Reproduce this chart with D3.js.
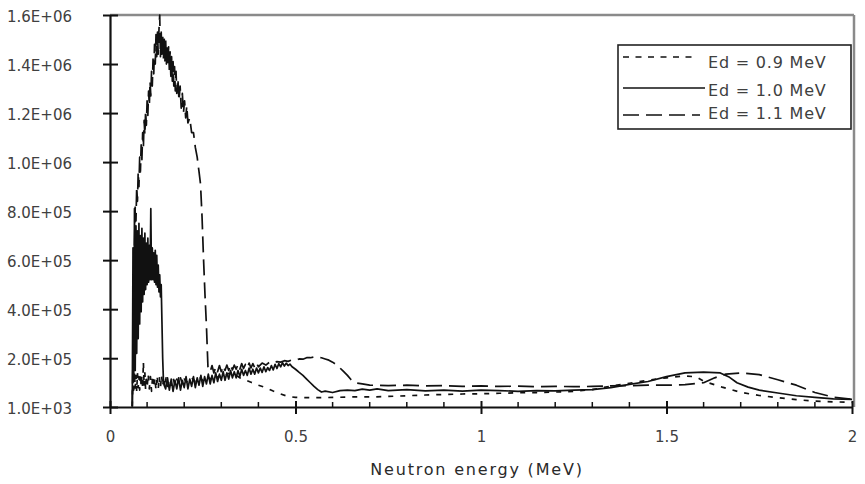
<!DOCTYPE html>
<html>
<head>
<meta charset="utf-8">
<script src="https://cdn.jsdelivr.net/npm/d3@7"></script>
<style>
  body { margin: 0; background: #fff; }
  text { font-family: "DejaVu Sans", sans-serif; }
</style>
</head>
<body>
<svg id="chart" width="865" height="484"></svg>
<script>
// Axis ticks
const yTickValues = [1e3, 2e5, 4e5, 6e5, 8e5, 1e6, 1.2e6, 1.4e6, 1.6e6];
const yTickLabels = ["1.0E+03", "2.0E+05", "4.0E+05", "6.0E+05", "8.0E+05",
                     "1.0E+06", "1.2E+06", "1.4E+06", "1.6E+06"];
const xTickValues = [0, 0.5, 1, 1.5, 2];
const xTickLabels = ["0", "0.5", "1", "1.5", "2"];
const xMinorTicks = [0.1, 0.2, 0.3, 0.4, 0.6, 0.7, 0.8, 0.9, 1.1, 1.2, 1.3, 1.4, 1.6, 1.7, 1.8, 1.9];
const xTitle = "Neutron energy (MeV)";
const seriesNames = ["Ed = 0.9 MeV", "Ed = 1.0 MeV", "Ed = 1.1 MeV"];

// Ed = 0.9 MeV spectrum
const energy09 = [0.060,0.062,0.064,0.066,0.068,0.070,0.072,0.074,0.076,0.078,0.080,0.082,0.084,0.086,0.088,0.090,0.092,0.094,0.096,0.098,
  0.100,0.103,0.106,0.109,0.112,0.115,0.118,0.121,0.124,0.127,0.130,0.133,0.136,0.139,0.142,0.145,0.148,0.151,0.155,0.160,
  0.165,0.170,0.175,0.180,0.185,0.190,0.195,0.200,0.210,0.220,0.230,0.240,0.250,0.260,0.270,0.280,0.290,0.300,0.310,0.320,
  0.330,0.340,0.350,0.360,0.370,0.380,0.390,0.400,0.420,0.440,0.460,0.480,0.500,0.550,0.600,0.650,0.700,0.750,0.800,0.850,
  0.900,0.950,1.000,1.050,1.100,1.150,1.200,1.250,1.300,1.350,1.400,1.450,1.500,1.550,1.580,1.600,1.650,1.700,1.750,1.800,
  1.850,1.900,1.950,2.000];
const counts09 = [3e3,1.35e5,0.7e5,1.45e5,0.75e5,1.3e5,0.65e5,1.4e5,0.8e5,1.25e5,0.7e5,1.35e5,0.85e5,1.3e5,0.75e5,1.85e5,0.85e5,1.4e5,0.7e5,1.3e5,
  0.8e5,1.35e5,0.75e5,1.25e5,0.65e5,1.3e5,0.8e5,1.2e5,0.7e5,1.3e5,0.75e5,1.25e5,0.8e5,1.3e5,0.85e5,1.25e5,0.8e5,1.2e5,0.85e5,1.15e5,
  0.9e5,1.2e5,0.9e5,1.15e5,0.95e5,1.2e5,0.95e5,1.15e5,1.0e5,1.2e5,1.05e5,1.25e5,1.1e5,1.3e5,1.15e5,1.32e5,1.22e5,1.36e5,1.28e5,1.38e5,
  1.28e5,1.3e5,1.2e5,1.15e5,1.08e5,1.02e5,0.96e5,0.9e5,0.8e5,0.66e5,0.54e5,0.44e5,0.4e5,0.39e5,0.4e5,0.42e5,0.42e5,0.44e5,0.47e5,0.5e5,
  0.52e5,0.54e5,0.55e5,0.57e5,0.59e5,0.6e5,0.62e5,0.65e5,0.72e5,0.86e5,0.98e5,1.1e5,1.2e5,1.28e5,1.24e5,1.06e5,0.82e5,0.61e5,0.48e5,0.39e5,
  0.31e5,0.25e5,0.22e5,0.2e5];

// Ed = 1.0 MeV spectrum
const energy10 = [0.060,0.062,0.064,0.066,0.068,0.070,0.072,0.074,0.076,0.078,0.080,0.082,0.084,0.086,0.088,0.090,0.092,0.094,0.096,0.098,
  0.100,0.102,0.104,0.106,0.108,0.110,0.112,0.114,0.116,0.118,0.120,0.122,0.124,0.126,0.128,0.130,0.132,0.134,0.136,0.138,
  0.140,0.142,0.144,0.146,0.150,0.155,0.160,0.165,0.170,0.175,0.180,0.185,0.190,0.195,0.200,0.205,0.210,0.215,0.220,0.225,
  0.230,0.235,0.240,0.245,0.250,0.255,0.260,0.265,0.270,0.275,0.280,0.285,0.290,0.295,0.300,0.305,0.310,0.315,0.320,0.325,
  0.330,0.335,0.340,0.345,0.350,0.355,0.360,0.365,0.370,0.375,0.380,0.385,0.390,0.395,0.400,0.405,0.410,0.415,0.420,0.425,
  0.430,0.435,0.440,0.445,0.450,0.455,0.460,0.465,0.470,0.475,0.480,0.485,0.490,0.500,0.510,0.520,0.530,0.540,0.550,0.560,
  0.570,0.580,0.600,0.620,0.640,0.660,0.680,0.700,0.720,0.750,0.800,0.850,0.900,0.950,1.000,1.050,1.100,1.150,1.200,1.250,
  1.300,1.350,1.400,1.450,1.500,1.550,1.600,1.645,1.670,1.690,1.720,1.750,1.800,1.850,1.900,1.950,2.000];
const counts10 = [3e3,6.5e5,1.2e5,8.1e5,1.5e5,7.4e5,2.2e5,7.2e5,2.8e5,7.5e5,3.4e5,7.0e5,3.9e5,7.3e5,4.3e5,6.9e5,4.6e5,7.1e5,4.8e5,6.7e5,
  5.0e5,6.9e5,5.1e5,6.6e5,5.2e5,8.1e5,5.2e5,6.5e5,5.2e5,6.3e5,5.1e5,6.4e5,5.0e5,6.2e5,4.9e5,5.8e5,4.7e5,5.4e5,4.5e5,5.0e5,
  3.5e5,2.0e5,1.1e5,0.9e5,0.75e5,1.2e5,0.7e5,1.15e5,0.65e5,1.1e5,0.75e5,1.2e5,0.7e5,1.1e5,0.8e5,1.25e5,0.75e5,1.15e5,0.85e5,1.25e5,
  0.8e5,1.2e5,0.9e5,1.3e5,0.85e5,1.25e5,0.95e5,1.35e5,0.95e5,1.3e5,1.0e5,1.4e5,1.05e5,1.35e5,1.1e5,1.45e5,1.1e5,1.4e5,1.15e5,1.5e5,
  1.2e5,1.45e5,1.2e5,1.5e5,1.25e5,1.55e5,1.3e5,1.5e5,1.3e5,1.6e5,1.35e5,1.55e5,1.35e5,1.6e5,1.4e5,1.6e5,1.42e5,1.65e5,1.45e5,1.62e5,
  1.5e5,1.7e5,1.52e5,1.75e5,1.58e5,1.78e5,1.65e5,1.82e5,1.68e5,1.8e5,1.7e5,1.76e5,1.66e5,1.55e5,1.42e5,1.3e5,1.15e5,1.0e5,0.85e5,0.72e5,
  0.62e5,0.66e5,0.6e5,0.68e5,0.7e5,0.68e5,0.74e5,0.7e5,0.75e5,0.68e5,0.72e5,0.67e5,0.7e5,0.66e5,0.7e5,0.68e5,0.65e5,0.68e5,0.67e5,0.7e5,
  0.72e5,0.8e5,0.93e5,1.05e5,1.25e5,1.4e5,1.43e5,1.4e5,1.22e5,1.0e5,0.82e5,0.7e5,0.58e5,0.47e5,0.4e5,0.34e5,0.32e5];

// Ed = 1.1 MeV spectrum
const energy11 = [0.060,0.062,0.064,0.066,0.068,0.070,0.072,0.074,0.076,0.078,0.080,0.082,0.084,0.086,0.088,0.090,0.092,0.094,0.096,0.098,
  0.100,0.102,0.104,0.106,0.108,0.110,0.112,0.114,0.116,0.118,0.120,0.122,0.124,0.126,0.128,0.130,0.132,0.134,0.136,0.138,
  0.140,0.142,0.144,0.146,0.148,0.150,0.152,0.154,0.156,0.158,0.160,0.162,0.164,0.166,0.168,0.170,0.172,0.174,0.176,0.178,
  0.180,0.183,0.186,0.189,0.192,0.195,0.198,0.201,0.204,0.207,0.210,0.215,0.220,0.225,0.230,0.235,0.240,0.244,0.248,0.252,
  0.256,0.260,0.264,0.270,0.275,0.280,0.285,0.290,
  0.295,0.300,0.305,0.310,0.315,0.320,0.325,0.330,0.335,0.340,0.345,0.350,0.355,0.360,0.365,0.370,0.375,0.380,0.385,0.390,
  0.395,0.400,0.410,0.420,0.430,0.440,0.450,0.460,0.470,0.480,0.490,0.500,0.510,0.520,0.530,0.540,0.550,0.560,0.570,0.580,
  0.590,0.600,0.610,0.620,0.630,0.640,0.650,0.660,0.680,0.700,0.750,0.800,0.850,0.900,0.950,1.000,1.050,1.100,1.150,1.200,
  1.250,1.300,1.350,1.400,1.450,1.500,1.550,1.600,1.630,1.660,1.700,1.750,1.800,1.850,1.900,1.950,2.000];
const counts11 = [3e3,2.0e5,4.5e5,6.5e5,8.2e5,7.6e5,9.0e5,8.4e5,9.6e5,9.0e5,1.02e6,0.96e6,1.07e6,1.01e6,1.12e6,1.06e6,1.17e6,1.11e6,1.21e6,1.15e6,
  1.25e6,1.19e6,1.29e6,1.23e6,1.33e6,1.27e6,1.37e6,1.31e6,1.42e6,1.36e6,1.48e6,1.4e6,1.52e6,1.43e6,1.53e6,1.44e6,1.54e6,1.6e6,1.43e6,1.53e6,
  1.44e6,1.52e6,1.42e6,1.51e6,1.41e6,1.5e6,1.4e6,1.48e6,1.39e6,1.47e6,1.37e6,1.45e6,1.35e6,1.43e6,1.33e6,1.41e6,1.31e6,1.39e6,1.29e6,1.37e6,
  1.28e6,1.34e6,1.25e6,1.31e6,1.22e6,1.28e6,1.2e6,1.25e6,1.18e6,1.23e6,1.16e6,1.18e6,1.12e6,1.12e6,1.06e6,1.02e6,0.96e6,0.91e6,0.78e6,0.61e6,
  0.46e6,0.33e6,1.65e5,1.45e5,1.7e5,1.4e5,1.65e5,1.45e5,
  1.7e5,1.45e5,1.7e5,1.5e5,1.72e5,1.5e5,1.75e5,1.52e5,1.72e5,1.55e5,1.75e5,1.55e5,1.78e5,1.58e5,1.75e5,1.6e5,1.8e5,1.6e5,1.78e5,1.62e5,
  1.8e5,1.65e5,1.8e5,1.72e5,1.84e5,1.8e5,1.86e5,1.84e5,1.9e5,1.87e5,1.93e5,1.92e5,1.97e5,1.96e5,2.02e5,2.02e5,2.05e5,2.03e5,2.02e5,1.97e5,
  1.92e5,1.84e5,1.74e5,1.6e5,1.45e5,1.3e5,1.12e5,1.0e5,0.95e5,0.9e5,0.88e5,0.9e5,0.87e5,0.88e5,0.85e5,0.87e5,0.85e5,0.86e5,0.84e5,0.85e5,
  0.84e5,0.85e5,0.87e5,0.88e5,0.9e5,0.9e5,0.92e5,1.0e5,1.2e5,1.35e5,1.4e5,1.33e5,1.12e5,0.9e5,0.6e5,0.41e5,0.33e5];

const series = [
  { name: seriesNames[0], energy: energy09, counts: counts09, dash: "5,7" },
  { name: seriesNames[1], energy: energy10, counts: counts10, dash: null },
  { name: seriesNames[2], energy: energy11, counts: counts11, dash: "16,7" }
];

const svg = d3.select("#chart");
const plotLeft = 110, plotRight = 852, plotTop = 15, plotBottom = 407;
const x = d3.scaleLinear().domain([0, 2]).range([plotLeft, plotRight]);
const y = d3.scaleLinear().domain([1e3, 1.6e6]).range([plotBottom, plotTop]);
const ink = "#111";
const labelColor = "#404040";

// Frame: grey top and right edges
svg.append("line").attr("x1", plotLeft).attr("x2", plotRight + 2).attr("y1", plotTop).attr("y2", plotTop)
  .attr("stroke", "#8a8a8a").attr("stroke-width", 2.5);
svg.append("line").attr("x1", plotRight + 2).attr("x2", plotRight + 2).attr("y1", plotTop).attr("y2", plotBottom)
  .attr("stroke", "#8a8a8a").attr("stroke-width", 2.5);

// Spectra
const line = d3.line().x(d => x(d[0])).y(d => y(d[1]));
svg.append("g").selectAll("path").data(series).join("path")
  .attr("d", s => line(s.energy.map((e, i) => [e, s.counts[i]])))
  .attr("fill", "none").attr("stroke", ink).attr("stroke-width", 1.7)
  .attr("stroke-linejoin", "round")
  .attr("stroke-dasharray", s => s.dash);

// Y axis with crossing ticks
const yAxis = svg.append("g").attr("transform", `translate(${plotLeft},0)`)
  .call(d3.axisLeft(y).tickValues(yTickValues)
    .tickFormat((d, i) => yTickLabels[i]).tickSizeInner(7).tickSizeOuter(0).tickPadding(31));
yAxis.select(".domain").attr("stroke", ink).attr("stroke-width", 2.2);
yAxis.selectAll(".tick line").attr("x1", 8).attr("x2", -7).attr("stroke", ink).attr("stroke-width", 2);
yAxis.selectAll(".tick text").attr("font-size", 15).attr("fill", labelColor)
  .attr("font-family", "DejaVu Sans").attr("dy", "0.45em");

// X axis: crossing major ticks, inward minor ticks
const xAxis = svg.append("g").attr("transform", `translate(0,${plotBottom})`)
  .call(d3.axisBottom(x).tickValues(xTickValues)
    .tickFormat((d, i) => xTickLabels[i]).tickSizeInner(6).tickSizeOuter(0).tickPadding(18));
xAxis.select(".domain").attr("stroke", ink).attr("stroke-width", 2.2);
xAxis.selectAll(".tick line").attr("y1", -6).attr("y2", 7).attr("stroke", ink).attr("stroke-width", 2);
xAxis.selectAll(".tick text").attr("font-size", 15).attr("fill", labelColor).attr("font-family", "DejaVu Sans");
xAxis.append("g").selectAll("line").data(xMinorTicks).join("line")
  .attr("x1", d => x(d)).attr("x2", d => x(d)).attr("y1", 0).attr("y2", -5)
  .attr("stroke", ink).attr("stroke-width", 1.5);

svg.append("text").attr("x", 477).attr("y", 475)
  .attr("text-anchor", "middle").attr("font-size", 16).attr("fill", "#2a2a2a")
  .attr("letter-spacing", 1.8).text(xTitle);

// Legend
const legend = svg.append("g");
legend.append("rect").attr("x", 618).attr("y", 45).attr("width", 233).attr("height", 84)
  .attr("fill", "#fff").attr("stroke", "#222").attr("stroke-width", 1.6);
const rowsText = [67.5, 95.5, 119];
const rowsLine = [57, 88, 115];
const rowEnds = [698, 705, 700];
series.forEach((s, i) => {
  legend.append("line").attr("x1", 623).attr("x2", rowEnds[i]).attr("y1", rowsLine[i]).attr("y2", rowsLine[i])
    .attr("stroke", ink).attr("stroke-width", 1.6).attr("stroke-dasharray", s.dash ? (i === 0 ? "6,6.5" : s.dash) : null);
  legend.append("text").attr("x", 708).attr("y", rowsText[i]).attr("font-size", 16)
    .attr("letter-spacing", 0.8).attr("fill", labelColor).text(s.name);
});
</script>
</body>
</html>
